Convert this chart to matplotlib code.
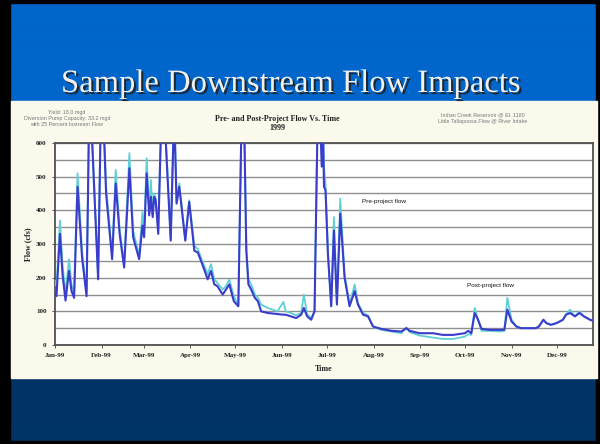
import numpy as np
import pandas as pd
import matplotlib
matplotlib.use("Agg")
import matplotlib.pyplot as plt
from matplotlib.patches import Rectangle
import matplotlib.patheffects as pe

# ---------------- data (day of 1999, flow in cfs) ----------------
day = [0, 1, 3.3, 5, 7, 9.3, 11, 12.7, 15, 18, 21, 23, 28.7, 31, 34, 38, 40.4, 43, 46,
       49.5, 52, 56, 58.2, 59.3, 61, 62.7, 63.8, 65, 66, 67, 68.7, 71.5, 77, 79.3, 80.9,
       82.7, 86.7, 89.3, 92.7, 95, 98, 101.6, 103.8, 106, 108, 111.6, 113.8, 116, 119,
       122, 125, 127.3, 128.7, 130.5, 133, 135, 137.2, 141.6, 148, 152, 153.5, 157,
       160.5, 163.8, 165.6, 167.8, 170.5, 172.7, 174.5, 175.5, 177.5, 178.3, 179, 180,
       181.6, 183.8, 185.6, 187.6, 189.8, 192.7, 196, 199.4, 201.6, 205, 208.3, 211.6,
       217, 224, 230.5, 233.8, 236, 242.7, 251.6, 258, 265, 272.7, 275, 277, 279.3,
       281.5, 283.8, 289, 296, 299, 301, 303.8, 307, 310, 320, 322, 325, 327, 330,
       333.8, 338, 340, 342.7, 346, 349, 352, 356, 358]
post_flow = [150, 145, 330, 210, 132, 220, 160, 140, 470, 260, 145, 780, 195, 820, 450, 255,
             480, 330, 230, 525, 320, 255, 355, 320, 510, 385, 440, 380, 440, 430, 330, 800,
             310, 700, 420, 470, 310, 425, 280, 275, 240, 195, 220, 180, 175, 150, 165, 180,
             130, 115, 900, 280, 180, 165, 140, 130, 100, 95, 92, 90, 90, 85, 80, 90, 110,
             85, 75, 100, 600, 800, 530, 650, 470, 460, 270, 115, 340, 120, 390, 200, 115,
             160, 120, 90, 85, 55, 48, 42, 40, 50, 42, 35, 35, 30, 30, 35, 42, 35, 95, 75,
             48, 45, 45, 45, 105, 70, 55, 50, 50, 55, 75, 65, 60, 65, 75, 90, 95, 85, 95,
             85, 75, 72]
pre_flow = [190, 175, 370, 240, 150, 255, 180, 150, 510, 280, 155, 800, 200, 850, 470, 265,
            520, 345, 240, 570, 340, 265, 395, 340, 555, 400, 490, 390, 450, 435, 340, 820,
            315, 720, 425, 480, 312, 430, 295, 285, 250, 210, 240, 195, 185, 165, 175, 195,
            145, 120, 920, 290, 195, 180, 150, 140, 120, 110, 100, 128, 100, 95, 88, 95, 150,
            90, 80, 100, 620, 820, 560, 680, 530, 480, 280, 118, 380, 125, 435, 210, 120,
            180, 125, 95, 88, 55, 45, 40, 35, 52, 38, 28, 22, 18, 18, 25, 32, 30, 110, 75,
            42, 42, 40, 42, 140, 75, 55, 50, 50, 55, 75, 65, 60, 65, 75, 90, 105, 85, 100,
            85, 75, 72]
month_labels = ["Jan-99", "Feb-99", "Mar-99", "Apr-99", "May-99", "Jun-99",
                "Jul-99", "Aug-99", "Sep-99", "Oct-99", "Nov-99", "Dec-99"]
y_ticks = [0, 100, 200, 300, 400, 500, 600]

dates = pd.Timestamp("1999-01-01") + pd.to_timedelta(day, unit="D")
month_starts = pd.date_range("1999-01-01", periods=12, freq="MS")

# ---------------- figure ----------------
W, H = 600, 444
fig = plt.figure(figsize=(W / 100, H / 100), dpi=100)

bg = fig.add_axes([0, 0, 1, 1])
bg.set_xlim(0, W)
bg.set_ylim(H, 0)
bg.axis("off")

rows = np.arange(H)
t = np.clip((rows - 100) / (380 - 100), 0, 1)
top = np.array([0, 102, 204]) / 255
bot = np.array([0, 51, 102]) / 255
cols = top[None, :] * (1 - t[:, None]) + bot[None, :] * t[:, None]
img = np.repeat(cols[:, None, :], W, axis=1)
bg.imshow(img, extent=[0, W, H, 0], aspect="auto", zorder=0)

# black frame
for r in [(0, 0, 10, H), (W - 4, 0, 4, H), (0, 0, W, 3), (0, H - 3, W, 3)]:
    bg.add_patch(Rectangle((r[0], r[1]), r[2], r[3], color="black", zorder=1))

# chart panel
bg.add_patch(Rectangle((11, 101), 586, 277, color="#FBF9EC", zorder=2))

# slide title
bg.text(61, 92, "Sample Downstream Flow Impacts", fontsize=23.5,
        family="Liberation Serif", color="#EFEFEF", va="baseline", ha="left", zorder=3,
        path_effects=[pe.withSimplePatchShadow(offset=(1.5, -1.5),
                                               shadow_rgbFace="#202020", alpha=0.9)])

# chart titles and notes
bg.text(277, 119, "Pre- and Post-Project Flow Vs. Time", fontsize=5.8,
        family="Liberation Serif", weight="bold", ha="center", va="center", zorder=3,
        color="#202020")
bg.text(277, 128, "1999", fontsize=5.8, family="Liberation Serif", weight="bold",
        ha="center", va="center", zorder=3, color="#202020")
bg.text(67, 118.5, "Yield: 18.0 mgd\nDiversion Pump Capacity: 33.2 mgd\nwith 25 Percent Instream Flow",
        fontsize=3.9, family="Liberation Sans", color="#777777", ha="center", va="center",
        linespacing=1.25, zorder=3)
bg.text(483, 118, "Indian Creek Reservoir @ El. 1180\nLittle Tallapoosa Flow @ River Intake",
        fontsize=3.9, family="Liberation Sans", color="#777777", ha="center", va="center",
        linespacing=1.25, zorder=3)
bg.text(28, 244, "Flow (cfs)", fontsize=5.8, family="Liberation Serif", weight="bold",
        rotation=90, ha="center", va="center", zorder=3, color="#202020")
bg.text(324, 369, "Time", fontsize=5.8, family="Liberation Serif", weight="bold",
        ha="center", va="center", zorder=3, color="#202020")

# ---------------- plot ----------------
ax = fig.add_axes([55 / W, (H - 345) / H, 538 / W, 202 / H])
ax.set_facecolor("white")
ax.plot(dates, pre_flow, color="#5FCFD6", lw=1.3, zorder=3)
ax.plot(dates, post_flow, color="#3A3CCB", lw=1.5, zorder=4)

ax.set_ylim(0, 600)
ax.set_xlim(pd.Timestamp("1999-01-01"), pd.Timestamp("1999-01-01") + pd.Timedelta(days=358))
ax.set_yticks(y_ticks)
ax.set_yticks(np.arange(50, 600, 100), minor=True)
ax.set_yticklabels([str(v) for v in y_ticks])
ax.yaxis.grid(True, which="both", color="#8F8F8F", lw=1.0, zorder=1)
ax.set_xticks(month_starts)
ax.set_xticklabels(month_labels)
ax.tick_params(axis="both", which="major", labelsize=5, length=2, width=0.6,
               colors="#404040", pad=4)
ax.tick_params(axis="y", which="minor", length=0)
for lab in ax.get_xticklabels() + ax.get_yticklabels():
    lab.set_family("Liberation Serif")
    lab.set_weight("bold")
    lab.set_color("#202020")
for s in ax.spines.values():
    s.set_color("#505050")
    s.set_linewidth(1.3)

ax.text(pd.Timestamp("1999-07-24"), 425, "Pre-project flow", fontsize=4.6,
        family="Liberation Sans", color="#111111", va="center", ha="left", zorder=5)
ax.text(pd.Timestamp("1999-10-02"), 178, "Post-project flow", fontsize=4.6,
        family="Liberation Sans", color="#111111", va="center", ha="left", zorder=5)

fig.savefig("out.png", dpi=100)
